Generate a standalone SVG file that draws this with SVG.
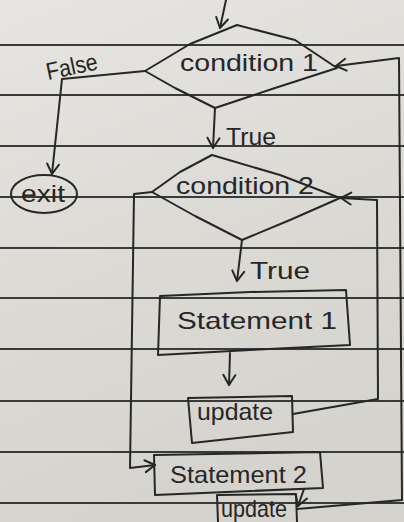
<svg xmlns="http://www.w3.org/2000/svg" width="404" height="522" viewBox="0 0 404 522">
  <defs>
    <linearGradient id="paper" x1="0" y1="0" x2="0.3" y2="1">
      <stop offset="0" stop-color="#e7e5e1"/>
      <stop offset="0.5" stop-color="#dddbd6"/>
      <stop offset="1" stop-color="#d5d3ce"/>
    </linearGradient>
    <marker id="arrow" viewBox="-12 -8 14 16" markerWidth="14" markerHeight="16" refX="0" refY="0" orient="auto" markerUnits="userSpaceOnUse">
      <path d="M-10,-6 L0,0 L-10,6" fill="none" stroke="#262626" stroke-width="2" stroke-linecap="round" stroke-linejoin="round"/>
    </marker>
    <style>
      .rule { stroke: #3a3a3a; stroke-width: 1.8; }
      .ink { fill: none; stroke: #262626; stroke-width: 2; stroke-linejoin: round; stroke-linecap: round; }
      .wire { fill: none; stroke: #262626; stroke-width: 2; stroke-linejoin: round; stroke-linecap: round; marker-end: url(#arrow); }
      .hand { font-family: "Liberation Sans", "DejaVu Sans", sans-serif; fill: #262626; font-size: 24px; }
    </style>
  </defs>

  <!-- ruled notebook paper -->
  <rect x="0" y="0" width="404" height="522" fill="url(#paper)"/>
  <g id="ruling">
    <line class="rule" x1="0" y1="45" x2="404" y2="45"/>
    <line class="rule" x1="0" y1="95" x2="404" y2="95"/>
    <line class="rule" x1="0" y1="146" x2="404" y2="146"/>
    <line class="rule" x1="0" y1="197" x2="404" y2="197"/>
    <line class="rule" x1="0" y1="248" x2="404" y2="248"/>
    <line class="rule" x1="0" y1="298" x2="404" y2="298"/>
    <line class="rule" x1="0" y1="349" x2="404" y2="349"/>
    <line class="rule" x1="0" y1="401" x2="404" y2="401"/>
    <line class="rule" x1="0" y1="452" x2="404" y2="452"/>
    <line class="rule" x1="0" y1="503" x2="404" y2="503"/>
  </g>

  <!-- connectors -->
  <g id="connectors">
    <path class="wire" d="M226,0 L220,28"/>
    <path class="wire" d="M145,71 L62,79 L52,174"/>
    <path class="wire" d="M215,108 L213,148"/>
    <path class="wire" d="M242,240 L237,281"/>
    <path class="wire" d="M230,353 L229,385"/>
    <path class="wire" d="M293,414 L378,399 L377,200 L341,198"/>
    <path class="wire" d="M152,192 L134,194 L130,468 L155,465"/>
    <path class="wire" d="M304,489 L298,506"/>
    <path class="wire" d="M297,509 L402,500 L399,58 L336,66"/>
    <text class="hand" x="48" y="80" transform="rotate(-12 48 80)" textLength="52" lengthAdjust="spacingAndGlyphs">False</text>
    <text class="hand" x="226" y="145" font-size="22" textLength="50" lengthAdjust="spacingAndGlyphs">True</text>
    <text class="hand" x="250" y="279" font-size="22" textLength="60" lengthAdjust="spacingAndGlyphs">True</text>
  </g>

  <!-- decision: condition 1 -->
  <g id="condition1">
    <path class="ink" d="M145,71 L190,44 L237,25 L295,40 L337,68 L275,88 L215,108 L175,88 Z"/>
    <text class="hand" x="180" y="71" font-size="25" textLength="138" lengthAdjust="spacingAndGlyphs">condition 1</text>
  </g>

  <!-- decision: condition 2 -->
  <g id="condition2">
    <path class="ink" d="M152,192 L180,172 L212,155 L280,175 L340,198 L290,220 L242,240 L195,216 Z"/>
    <text class="hand" x="176" y="194" font-size="25" textLength="138" lengthAdjust="spacingAndGlyphs">condition 2</text>
  </g>

  <!-- terminator: exit -->
  <g id="exit">
    <ellipse class="ink" cx="44" cy="194" rx="33" ry="19"/>
    <text class="hand" x="21" y="202" font-size="22" textLength="44" lengthAdjust="spacingAndGlyphs">exit</text>
  </g>

  <!-- process: statement 1 -->
  <g id="statement1">
    <path class="ink" d="M160,296 L250,292 L346,290 L350,345 L250,350 L158,355 Z"/>
    <text class="hand" x="177" y="329" font-size="27" textLength="160" lengthAdjust="spacingAndGlyphs">Statement 1</text>
  </g>

  <!-- process: update (inner loop) -->
  <g id="update1">
    <path class="ink" d="M188,398 L292,396 L293,432 L192,443 Z"/>
    <text class="hand" x="197" y="420" textLength="76" lengthAdjust="spacingAndGlyphs">update</text>
  </g>

  <!-- process: statement 2 -->
  <g id="statement2">
    <path class="ink" d="M154,455 L320,452 L323,488 L155,495 Z"/>
    <text class="hand" x="170" y="483" font-size="27" textLength="137" lengthAdjust="spacingAndGlyphs">Statement 2</text>
  </g>

  <!-- process: update (outer loop) -->
  <g id="update2">
    <path class="ink" d="M217,495 L296,494 L297,522 M217,495 L218,522"/>
    <text class="hand" x="221" y="517" font-size="20" textLength="66" lengthAdjust="spacingAndGlyphs">update</text>
  </g>
</svg>
